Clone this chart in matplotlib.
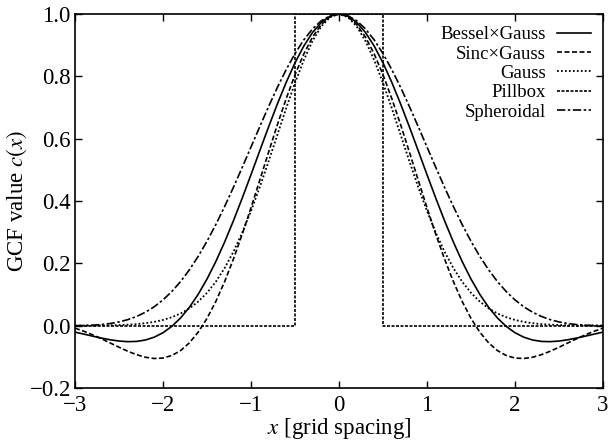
import matplotlib
matplotlib.use("Agg")
import matplotlib.pyplot as plt

# sampling positions (grid spacing units)
x_pos = [0.0, 0.1, 0.2, 0.3, 0.4, 0.5, 0.6, 0.7, 0.8, 0.9, 1.0, 1.1, 1.2, 1.3, 1.4, 1.5,
         1.6, 1.7, 1.8, 1.9, 2.0, 2.1, 2.2, 2.3, 2.4, 2.5, 2.6, 2.7, 2.8, 2.9, 3.0]

# curve values at x_pos (curves are symmetric about x = 0)
bessel_gauss = [1.0, 0.99331, 0.97345, 0.94106, 0.89717, 0.84315, 0.78065, 0.71155, 0.63782,
                0.56151, 0.48459, 0.40897, 0.33633, 0.26813, 0.20556, 0.14951, 0.10055,
                0.05898, 0.02478, -0.00228, -0.02266, -0.03699, -0.04601, -0.05051, -0.05134,
                -0.04932, -0.04522, -0.03976, -0.03352, -0.02705, -0.02073]
sinc_gauss = [1.0, 0.99161, 0.96673, 0.92629, 0.87175, 0.80508, 0.72863, 0.64497, 0.55689,
              0.46715, 0.37842, 0.29315, 0.21348, 0.14115, 0.07748, 0.02335, -0.02085,
              -0.05512, -0.07986, -0.09580, -0.10391, -0.10533, -0.10132, -0.09314, -0.08204,
              -0.06917, -0.05554, -0.04202, -0.02929, -0.01784, -0.00802]
gauss = [1.0, 0.99005, 0.96079, 0.91393, 0.85214, 0.77880, 0.69768, 0.61263, 0.52729, 0.44486,
         0.36788, 0.29820, 0.23693, 0.18452, 0.14086, 0.10540, 0.07730, 0.05558, 0.03916,
         0.02705, 0.01832, 0.01216, 0.00791, 0.00504, 0.00315, 0.00193, 0.00116, 0.00068,
         0.00039, 0.00022, 0.00012]
spheroidal = [1.0, 0.99461, 0.97862, 0.95246, 0.91689, 0.87290, 0.82169, 0.76463, 0.70319,
              0.63889, 0.57325, 0.50770, 0.44359, 0.38211, 0.32424, 0.27080, 0.22235, 0.17925,
              0.14165, 0.10951, 0.08262, 0.06065, 0.04313, 0.02956, 0.01938, 0.01201, 0.00692,
              0.00359, 0.00157, 0.00048, 0.0]
pillbox_x = [-3.0, -0.5, -0.5, 0.5, 0.5, 3.0]
pillbox_y = [0.0, 0.0, 1.0, 1.0, 0.0, 0.0]

x_full = [-v for v in x_pos[:0:-1]] + x_pos


def mirror(vals):
    return vals[:0:-1] + vals


plt.rcParams['font.family'] = ['Liberation Serif', 'DejaVu Serif']
plt.rcParams['mathtext.fontset'] = 'stix'

fig = plt.figure(figsize=(6.08, 4.40), dpi=100)
ax = fig.add_axes([75 / 608, 1 - 388 / 440, 528 / 608, 374 / 440])

lw = 1.2
ax.plot(x_full, mirror(bessel_gauss), color='black', lw=lw, ls='-', label='Bessel\u00d7Gauss')
ax.plot(x_full, mirror(sinc_gauss), color='black', lw=lw, ls=(0, (3, 1.5)), label='Sinc\u00d7Gauss')
ax.plot(x_full, mirror(gauss), color='black', lw=1.3, ls=(0, (1, 1.2)), label='Gauss')
ax.plot(pillbox_x, pillbox_y, color='black', lw=lw, ls=(0, (1.8, 0.9)), label='Pillbox')
ax.plot(x_full, mirror(spheroidal), color='black', lw=lw, ls=(0, (5, 1.5, 1.5, 1.5)), label='Spheroidal')

ax.set_xlim(-3, 3)
ax.set_ylim(-0.2, 1.0)
ax.set_xticks([-3, -2, -1, 0, 1, 2, 3])
ax.set_yticks([-0.2, 0.0, 0.2, 0.4, 0.6, 0.8, 1.0])
ax.set_yticklabels(['\u22120.2', '0.0', '0.2', '0.4', '0.6', '0.8', '1.0'])
ax.set_xticklabels(['\u22123', '\u22122', '\u22121', '0', '1', '2', '3'])
ax.tick_params(direction='in', top=True, right=True, length=5, width=1.0, labelsize=16.5)
ax.tick_params(axis='x', pad=5)
ax.tick_params(axis='y', pad=3)
for s in ax.spines.values():
    s.set_linewidth(1.2)

ax.set_xlabel('$x$ [grid spacing]', fontsize=16.5, labelpad=0)
ax.set_ylabel('GCF value $c(x)$', fontsize=16.5, labelpad=0)

leg = ax.legend(loc='upper right', frameon=False, markerfirst=False, fontsize=13.5,
                handlelength=1.8, handletextpad=0.6, labelspacing=0.12,
                borderaxespad=0.25)

fig.savefig('out.png', dpi=100)
